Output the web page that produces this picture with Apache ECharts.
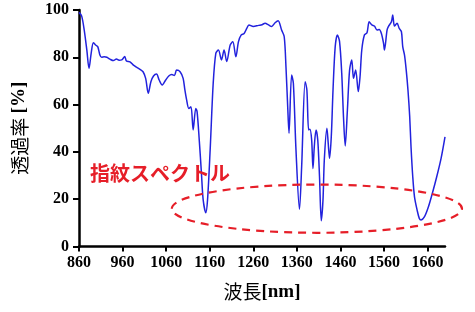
<!DOCTYPE html>
<html>
<head>
<meta charset="utf-8">
<script src="https://cdn.jsdelivr.net/npm/echarts@6/dist/echarts.min.js"></script>
<style>
html,body{margin:0;padding:0;background:#fff;}
#chart{width:475px;height:312px;}
</style>
</head>
<body>
<div id="chart"></div>
<script>
// Wavelength [nm]
const wavelengths = [860,866,872,878,883,888,893,898,903,908,912,918,924,931,939,946,952,958,965,969,977,985,992,1000,1007,1013,1019,1025,1031,1038,1044,1051,1059,1066,1073,1079,1084,1092,1099,1103,1107,1112,1117,1122,1128,1131,1136,1141,1145,1151,1155,1161,1168,1174,1180,1187,1193,1199,1207,1213,1220,1226,1232,1239,1245,1250,1260,1272,1280,1287,1295,1302,1310,1317,1325,1331,1335,1339,1342,1348,1352,1358,1366,1371,1379,1383,1387,1390,1394,1397,1400,1404,1408,1412,1416,1420,1423,1429,1432,1435,1439,1443,1448,1453,1458,1463,1467,1471,1476,1481,1486,1490,1495,1501,1505,1509,1515,1521,1526,1532,1538,1544,1549,1554,1559,1561,1567,1570,1577,1580,1584,1590,1595,1600,1603,1607,1611,1615,1619,1622,1626,1630,1636,1641,1645,1653,1662,1671,1681,1691,1700];
// Transmittance [%]
const transmittance = [99,97.5,91.5,83,75.3,81.8,86.2,85.2,84.5,81,80,80.2,80,79.2,78.6,79.3,78.8,78.9,80.3,78.4,78.1,76.7,75.8,74.9,73.9,71.1,64.8,69.7,72.1,72.9,70.4,68.3,70.4,72.1,72.7,72.3,74.6,73.9,71.1,66.2,62,58.4,59.1,49.3,58.4,57,45,31,19.7,14.3,19.7,40.8,69,81.7,83.1,78.9,83.1,78.2,85.2,86.6,80.2,86.6,89.4,90.1,92.2,93.7,93,93.5,93.8,94.4,93.7,93,94.6,95.5,91.5,88.7,76,59.1,47.9,72.5,69,40.8,15.7,33.7,69.7,66.2,49.3,49.6,45,33,42.2,49.3,45,29.5,10.9,19.7,36.6,50,43.6,37.3,46.4,66.2,84.5,89.4,86.6,73.2,54.9,42.5,57.7,74.6,78.9,71.1,74.6,65.5,71.8,83.1,89.4,90.4,95,93.7,93.2,91.5,91.8,90.1,85.9,83.1,91.5,93,95,97.9,93.2,94.4,92.2,90.8,84.5,81,74.6,66.2,54.9,42.2,29.5,21,15.4,11.9,11.2,12.6,16.8,22.5,29.5,37.3,46.4];

const xTicks = [860,960,1060,1160,1260,1360,1460,1560,1660];
const xRange = [860, 1700];
const yTicks = [0,20,40,60,80,100];

// Fingerprint-region annotation (ellipse in data units: centre wl, centre %, half-width nm, half-height %)
const fingerprintEllipse = [[1406, 16, 333, 10.2]];
const annotationText = '指紋スペクトル';

const chart = echarts.init(document.getElementById('chart'));
const tickFont = {fontFamily:'Liberation Serif', fontWeight:'bold', fontSize:16, color:'#000'};
const axisLineStyle = {color:'#000', width:2.5};

chart.setOption({
  animation:false,
  backgroundColor:'#fff',
  grid:{left:79, right:30, top:10, bottom:65.5, containLabel:false},
  xAxis:{
    type:'value', min:xRange[0], max:xRange[1], interval:xTicks[1]-xTicks[0],
    splitLine:{show:false},
    axisLine:{show:true, onZero:false, lineStyle:axisLineStyle},
    axisTick:{show:true, length:5, lineStyle:{color:'#000', width:2}},
    axisLabel:Object.assign({margin:8, showMaxLabel:false,
      formatter:v => xTicks.includes(v) ? String(v) : ''}, tickFont),
    name:'{a|波長}{b|[nm]}', nameLocation:'middle', nameGap:36,
    nameTextStyle:{rich:{
      a:{fontFamily:'Noto Sans CJK JP', fontSize:19, color:'#000'},
      b:{fontFamily:'Liberation Serif', fontWeight:'bold', fontSize:19, color:'#000'}
    }}
  },
  yAxis:{
    type:'value', min:yTicks[0], max:yTicks[yTicks.length-1], interval:yTicks[1]-yTicks[0],
    splitLine:{show:false},
    axisLine:{show:true, lineStyle:axisLineStyle},
    axisTick:{show:true, length:6, lineStyle:{color:'#000', width:2}},
    axisLabel:Object.assign({margin:10}, tickFont),
    name:'{a|透過率 }{b|[%]}', nameLocation:'middle', nameGap:50, nameRotate:90,
    nameTextStyle:{rich:{
      a:{fontFamily:'Noto Sans CJK JP', fontSize:19, color:'#000'},
      b:{fontFamily:'Liberation Serif', fontWeight:'bold', fontSize:19, color:'#000'}
    }}
  },
  series:[
    {
      type:'line',
      data:wavelengths.map((w,i)=>[w, transmittance[i]]),
      showSymbol:false,
      smooth:0.3,
      lineStyle:{color:'#2222dd', width:1.5},
      z:3
    },
    {
      type:'custom',
      coordinateSystem:'cartesian2d',
      clip:false,
      data:fingerprintEllipse,
      renderItem:function(params, api){
        const c = api.coord([api.value(0), api.value(1)]);
        const e = api.coord([api.value(0)+api.value(2), api.value(1)+api.value(3)]);
        return {
          type:'ellipse',
          shape:{cx:c[0], cy:c[1], rx:Math.abs(e[0]-c[0]), ry:Math.abs(c[1]-e[1])},
          style:{fill:null, stroke:'#e61e28', lineWidth:2.2, lineDash:[8,6]},
          z2:5
        };
      },
      z:4
    }
  ],
  graphic:[{
    type:'text', left:90, top:163, z:10,
    style:{text:annotationText, fill:'#e61e28', font:'bold 20px "Noto Sans CJK JP"'}
  }]
});
</script>
</body>
</html>
